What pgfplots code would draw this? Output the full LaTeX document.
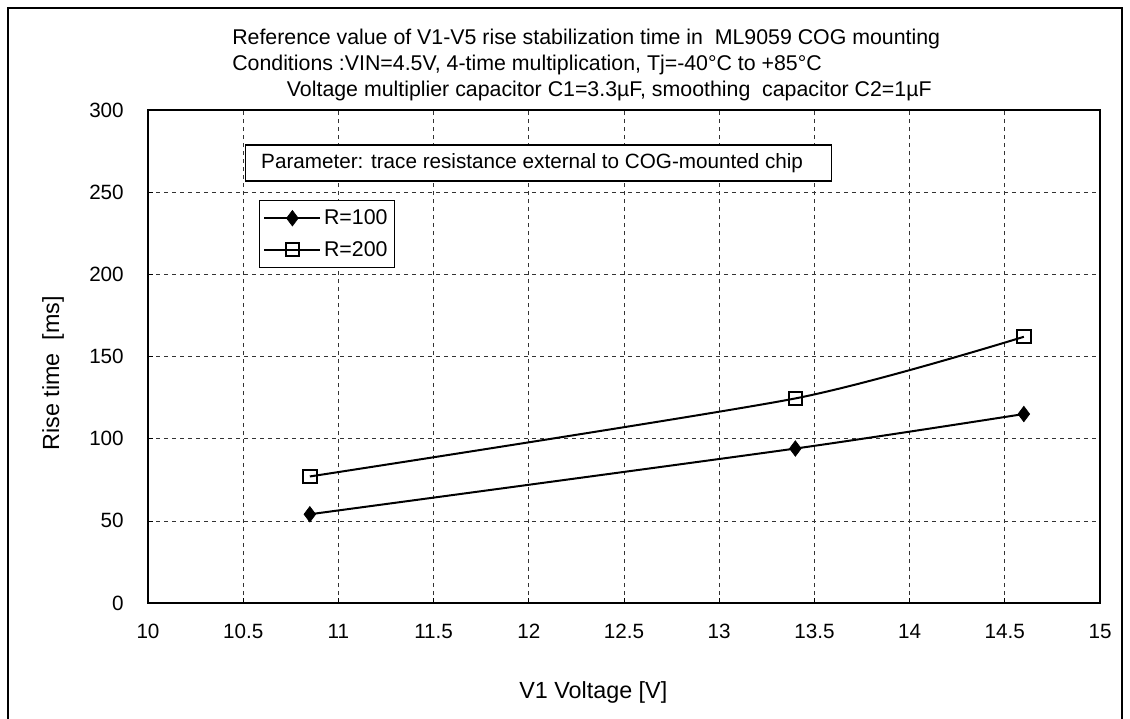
\documentclass[border=0pt]{standalone}
\usepackage{pgfplots}
\pgfplotsset{compat=1.18}
\usepackage{fontspec}
\setmainfont{Liberation Sans}
\begin{document}
\begin{tikzpicture}
\useasboundingbox (0,0) rectangle (847.5pt,-538.5pt);
\draw[line width=0.8pt] (6pt,-545pt) -- (6pt,-6pt) -- (841.5pt,-6pt) -- (841.5pt,-545pt);
\begin{scope}[every node/.style={font=\fontsize{16}{19}\selectfont, inner sep=0pt}]
\node[anchor=base west] at (174pt,-33.5pt) {Reference value of V1-V5 rise stabilization time in\ \ ML9059 COG mounting};
\node[anchor=base west] at (174pt,-53pt) {Conditions :VIN=4.5V, 4-time multiplication, Tj=-40°C to +85°C};
\node[anchor=base west] at (215pt,-72.5pt) {Voltage multiplier capacitor C1=3.3µF, smoothing\ \ capacitor C2=1µF};
\end{scope}
\node[rotate=90, font=\fontsize{17.5}{21}\selectfont, inner sep=0pt] at (39.75pt,-280pt) {Rise time\ \ [ms]};
\node[font=\fontsize{17.5}{21}\selectfont, inner sep=0pt] at (445pt,-519pt) {V1 Voltage [V]};
\begin{axis}[
  at={(111pt,-82.5pt)}, anchor=north west,
  scale only axis, width=714pt, height=369.75pt,
  xmin=10, xmax=15, ymin=0, ymax=300,
  xtick={10,10.5,...,15}, ytick={0,50,...,300},
  xticklabels={10,10.5,11,11.5,12,12.5,13,13.5,14,14.5,15},
  grid=major,
  major grid style={dashed, black!80, line width=0.5pt},
  axis line style={line width=0.8pt},
  tick style={black, line width=0.5pt},
  major tick length=4pt,
  tick pos=left,
  tick align=inside,
  /pgf/number format/assume math mode=true,
  ticklabel style={font=\fontsize{15.5}{18}\selectfont},
  xticklabel style={yshift=-15.5pt, text height=11pt, text depth=0pt, inner sep=0pt},
  yticklabel style={xshift=-18pt, inner sep=0pt},
  legend style={at={(0.1166,0.8174)}, anchor=north west, draw=black, line width=0.6pt,
    font=\fontsize{16}{19}\selectfont, row sep=7pt, inner xsep=3pt, inner ysep=5pt},
  legend image code/.code={\draw[mark repeat=2,mark phase=2,#1] plot coordinates {(0pt,0pt) (21pt,0pt) (42pt,0pt)};},
  legend cell align=left,
]
\draw[fill=white, line width=0.8pt] (axis cs:10.51,278.7) rectangle (axis cs:13.59,256.8);
\node[anchor=west, font=\fontsize{15.5}{18}\selectfont] at (axis cs:10.57,267.7) {Parameter: trace resistance external to COG-mounted chip};
\addplot[black, line width=1.5pt, smooth, tension=0.4, mark=diamond*, mark size=5.8pt, mark options={fill=black, line width=0.5pt}]
  coordinates {(10.85,54) (13.4,94) (14.6,115)};
\addlegendentry{R=100}
\addplot[black, line width=1.5pt, smooth, tension=0.4, mark=square, mark size=5pt, mark options={fill=white, line width=1.5pt}]
  coordinates {(10.85,77) (13.4,124.5) (14.6,162)};
\addlegendentry{R=200}
\end{axis}
\end{tikzpicture}
\end{document}
